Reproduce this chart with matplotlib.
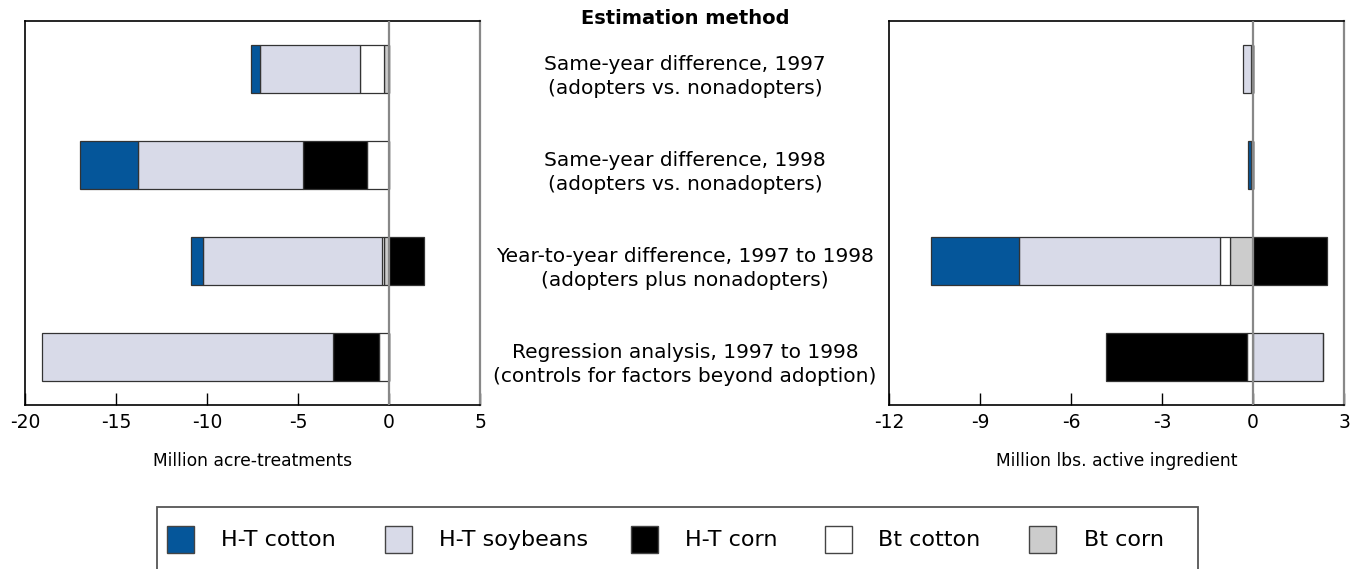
import numpy as np
import matplotlib
matplotlib.use("Agg")
import matplotlib.pyplot as plt
import matplotlib.transforms as mtransforms
from matplotlib.patches import Rectangle

# categories (rows, top to bottom)
methods = [
    "Same-year difference, 1997\n(adopters vs. nonadopters)",
    "Same-year difference, 1998\n(adopters vs. nonadopters)",
    "Year-to-year difference, 1997 to 1998\n(adopters plus nonadopters)",
    "Regression analysis, 1997 to 1998\n(controls for factors beyond adoption)",
]
series = ["H-T cotton", "H-T soybeans", "H-T corn", "Bt cotton", "Bt corn"]
colors = ["#05569a", "#d8dae8", "#000000", "#ffffff", "#cccccc"]

# million acre-treatments
acre_ht_cotton = [-0.5, -3.2, -0.64, 0.0]
acre_ht_soy = [-5.5, -9.07, -9.84, -16.0]
acre_ht_corn = [0.0, -3.53, 1.9, -2.5]
acre_bt_cotton = [-1.33, -1.2, -0.12, -0.57]
acre_bt_corn = [-0.27, 0.0, -0.28, 0.0]

# million lbs. active ingredient
lbs_ht_cotton = [0.0, -0.1, -2.9, 0.0]
lbs_ht_soy = [-0.25, 0.0, -6.65, 2.3]
lbs_ht_corn = [-0.07, 0.0, 2.43, -4.64]
lbs_bt_cotton = [0.0, -0.06, -0.32, -0.21]
lbs_bt_corn = [0.0, 0.0, -0.76, 0.0]

acre = [acre_ht_cotton, acre_ht_soy, acre_ht_corn, acre_bt_cotton, acre_bt_corn]
lbs = [lbs_ht_cotton, lbs_ht_soy, lbs_ht_corn, lbs_bt_cotton, lbs_bt_corn]

W, H = 1356, 569
fig = plt.figure(figsize=(W / 100, H / 100), dpi=100)


def px_axes(x0, x1, y0, y1):
    return fig.add_axes([x0 / W, 1 - y1 / H, (x1 - x0) / W, (y1 - y0) / H])


def stacked(ax, data, xlim, ticks, xlabel):
    y = np.arange(len(methods))
    neg = np.zeros(len(methods))
    pos = np.zeros(len(methods))
    # stack from zero outward: Bt corn first, H-T cotton last
    for i in reversed(range(len(series))):
        v = np.array(data[i])
        left = np.where(v < 0, neg + v, pos)
        ax.barh(y, np.abs(v), left=left, height=0.5, color=colors[i],
                edgecolor="#333333", linewidth=0.9, zorder=2)
        neg = np.where(v < 0, neg + v, neg)
        pos = np.where(v > 0, pos + v, pos)
    ax.set_xlim(*xlim)
    ax.set_ylim(3.5, -0.5)
    ax.set_yticks([])
    ax.set_xticks(ticks)
    ax.set_xticklabels([str(t) for t in ticks])
    ax.tick_params(axis="x", direction="in", length=8.5, width=1, pad=6,
                   labelsize=13.5)
    ax.axvline(0, color="#888888", linewidth=1.6, zorder=3)
    for s in ["left", "top", "bottom"]:
        ax.spines[s].set_color("black")
        ax.spines[s].set_linewidth(1.2)
    ax.spines["right"].set_color("#888888")
    ax.spines["right"].set_linewidth(1.6)
    bb = ax.get_position()
    fig.text(bb.x0 + bb.width / 2, 1 - 461 / H, xlabel, ha="center",
             va="center", fontsize=12.3)


ax1 = px_axes(25, 480, 21, 405)
stacked(ax1, acre, (-20, 5), [-20, -15, -10, -5, 0, 5], "Million acre-treatments")
ax2 = px_axes(889, 1344, 21, 405)
stacked(ax2, lbs, (-12, 3), [-12, -9, -6, -3, 0, 3], "Million lbs. active ingredient")

# middle labels
fig.text(685 / W, 1 - 18 / H, "Estimation method", ha="center", va="center",
         fontsize=14, fontweight="bold")
tr = mtransforms.blended_transform_factory(fig.transFigure, ax1.transData)
for i, m in enumerate(methods):
    fig.text(685 / W, i + 0.08, m, transform=tr, ha="center", va="center",
             fontsize=14.5, linespacing=1.3)

# legend box (bottom edge runs off the figure)
fig.patches.append(Rectangle((157 / W, -0.1), (1198 - 157) / W, 0.1 + 1 - 507 / H,
                             transform=fig.transFigure, facecolor="none",
                             edgecolor="#555555", linewidth=1.3))
sq_x = [167, 385, 631, 825, 1029]
tx_x = [221, 439, 685, 878, 1084]
for i, name in enumerate(series):
    fig.patches.append(Rectangle((sq_x[i] / W, 1 - 553 / H), 27 / W, 27 / H,
                                 transform=fig.transFigure, facecolor=colors[i],
                                 edgecolor="#444444", linewidth=1))
    fig.text(tx_x[i] / W, 1 - 539.5 / H, name, ha="left", va="center", fontsize=16)

fig.savefig("out.png", dpi=100)
